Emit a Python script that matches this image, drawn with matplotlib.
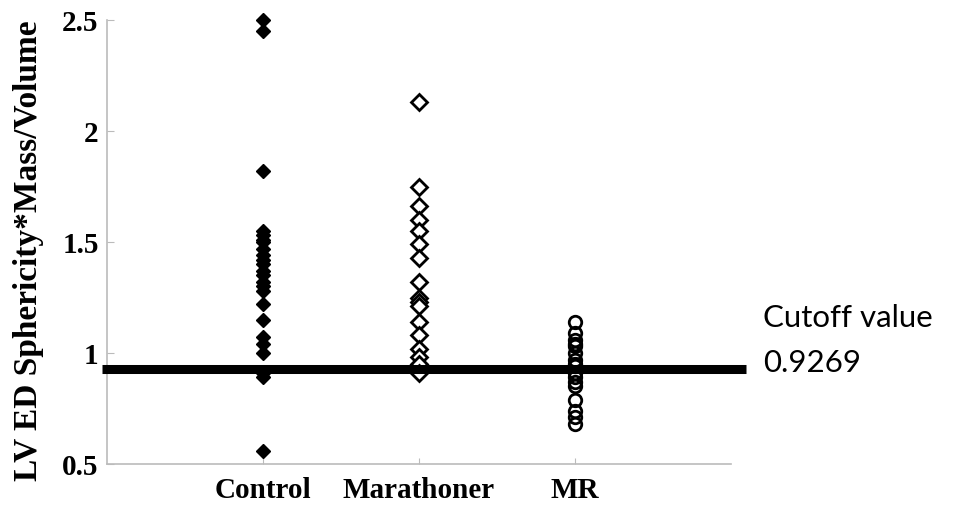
import matplotlib.pyplot as plt

categories = ["Control", "Marathoner", "MR"]
control = [2.50, 2.45, 1.82, 1.55, 1.53, 1.51, 1.50, 1.47, 1.44, 1.42, 1.40,
           1.37, 1.35, 1.32, 1.30, 1.28, 1.22, 1.15, 1.07, 1.04, 1.00, 0.91,
           0.89, 0.56]
marathoner = [2.13, 1.75, 1.66, 1.60, 1.55, 1.49, 1.43, 1.32, 1.25, 1.23,
              1.21, 1.14, 1.08, 1.02, 0.98, 0.95, 0.91]
mr = [1.14, 1.09, 1.06, 1.04, 1.03, 1.00, 0.97, 0.95, 0.94, 0.91, 0.89,
      0.87, 0.85, 0.79, 0.74, 0.71, 0.68]
cutoff = 0.9269
y_ticks = [0.5, 1, 1.5, 2, 2.5]
y_tick_labels = ["0.5", "1", "1.5", "2", "2.5"]

serif = "Liberation Serif"

fig = plt.figure(figsize=(9.54, 5.08), dpi=100)
ax = fig.add_axes([0.1122, 0.0866, 0.654, 0.874])

ax.plot([1] * len(control), control, linestyle="none", marker="D",
        markersize=7.5, color="black", clip_on=False, zorder=3)
ax.plot([2] * len(marathoner), marathoner, linestyle="none", marker="D",
        markersize=8, markerfacecolor="white", markeredgecolor="black",
        markeredgewidth=2, clip_on=False, zorder=3)
ax.plot([3] * len(mr), mr, linestyle="none", marker="o",
        markersize=9, markerfacecolor="none", markeredgecolor="black",
        markeredgewidth=2, clip_on=False, zorder=3)

# cutoff line, a little wider than the axes
ax.plot([-0.032, 4.096], [cutoff, cutoff], color="black", linewidth=6.5,
        solid_capstyle="butt", clip_on=False, zorder=4)
ax.text(4.205, 1.117, "Cutoff value", fontsize=22.5, family="Lato",
        va="baseline", ha="left")
ax.text(4.205, 0.914, "%.4f" % cutoff, fontsize=22.5, family="Lato",
        va="baseline", ha="left")

ax.set_xlim(0, 4)
ax.set_ylim(0.5, 2.5)
ax.set_xticks([1, 2, 3])
ax.set_xticklabels(categories, fontsize=21, fontweight="bold", family=serif)
ax.set_yticks(y_ticks)
ax.set_yticklabels(y_tick_labels, fontsize=21, fontweight="bold", family=serif)
ax.tick_params(axis="x", direction="in", length=4, color="#bbbbbb", pad=9)
ax.tick_params(axis="y", direction="in", length=5, color="#bbbbbb", pad=6)

fig.text(29 / 954, 1 - 251 / 508, "LV ED Sphericity*Mass/Volume", fontsize=24,
         fontweight="bold", family=serif, rotation=90, ha="center", va="center")

for side in ["top", "right"]:
    ax.spines[side].set_visible(False)
for side in ["left", "bottom"]:
    ax.spines[side].set_color("#bbbbbb")
    ax.spines[side].set_linewidth(1.2)

fig.savefig("out.png", dpi=100)
